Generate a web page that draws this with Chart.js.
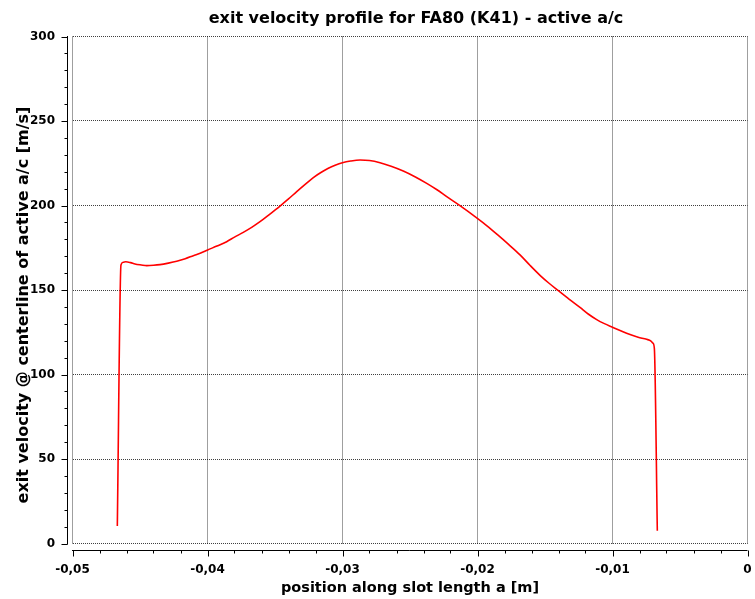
<!DOCTYPE html>
<html>
<head>
<meta charset="utf-8">
<script src="https://cdn.jsdelivr.net/npm/chart.js@4.4.1/dist/chart.umd.min.js"></script>
<style>
  html, body { margin: 0; padding: 0; background: #fff; }
  #wrap { width: 755px; height: 599px; }
</style>
</head>
<body>
<div id="wrap"><canvas id="c" width="755" height="599"></canvas></div>
<script>
// position along slot length [m]
const positions = [
  -0.04668, -0.04641, -0.04625, -0.04605, -0.04570, -0.04537, -0.04490, -0.04450,
  -0.04400, -0.04352, -0.04290, -0.04228, -0.04165, -0.04105, -0.04050, -0.03999,
  -0.03930, -0.03858, -0.03800, -0.03735, -0.03670, -0.03611, -0.03540, -0.03463,
  -0.03400, -0.03339, -0.03270, -0.03216, -0.03160, -0.03105, -0.03050, -0.03001,
  -0.02940, -0.02870, -0.02800, -0.02722, -0.02640, -0.02550, -0.02460, -0.02376,
  -0.02300, -0.02228, -0.02130, -0.02001, -0.01930, -0.01850, -0.01770, -0.01685,
  -0.01610, -0.01537, -0.01470, -0.01401, -0.01320, -0.01241, -0.01180, -0.01117,
  -0.01060, -0.01001, -0.00935, -0.00870, -0.00810, -0.00747, -0.00715, -0.00700,
  -0.00690, -0.00668
];
// exit velocity [m/s]
const velocities = [
  10.4, 164.8, 166.4, 166.7, 166.2, 165.4, 164.8, 164.4,
  164.6, 165.0, 165.9, 167.0, 168.5, 170.3, 171.9, 173.7,
  176.0, 178.6, 181.3, 184.1, 187.2, 190.4, 194.8, 199.7,
  203.9, 208.2, 212.9, 216.5, 219.5, 222.0, 224.0, 225.3,
  226.3, 226.9, 226.6, 225.3, 223.2, 220.4, 216.9, 213.1,
  209.3, 205.2, 199.9, 192.4, 188.0, 182.6, 177.0, 170.8,
  164.5, 158.7, 154.0, 149.6, 144.5, 139.7, 135.8, 132.5,
  130.1, 128.0, 125.7, 123.6, 122.0, 120.8, 119.8, 118.5,
  115.5, 7.6
];
const xTicks = [-0.05, -0.04, -0.03, -0.02, -0.01, 0];
const yTicks = [0, 50, 100, 150, 200, 250, 300];

const FONT = "'DejaVu Sans', Verdana, sans-serif";
const TITLE = 'exit velocity profile for FA80 (K41) - active a/c';
const X_TITLE = 'position along slot length a [m]';
const Y_TITLE = 'exit velocity @ centerline of active a/c [m/s]';

// titel, achsen mit abstand + kleine striche
const axisPlugin = {
  id: 'offsetAxes',
  afterDraw(chart) {
    const { ctx, chartArea: a, scales: { x, y } } = chart;
    ctx.save();
    ctx.strokeStyle = '#000';
    ctx.lineWidth = 1;
    const yLine = Math.round(a.bottom + 6) + 0.5;
    const xLine = Math.round(a.left - 6) + 0.5;

    ctx.beginPath();
    ctx.moveTo(x.getPixelForValue(-0.05) - 0.5, yLine);
    ctx.lineTo(x.getPixelForValue(0), yLine);
    for (let i = 0; i <= 25; i++) {
      const px = Math.round(x.getPixelForValue(-0.05 + i * 0.002)) + 0.5;
      ctx.moveTo(px, yLine);
      ctx.lineTo(px, yLine + (i % 5 === 0 ? 6 : 3));
    }
    ctx.moveTo(xLine, y.getPixelForValue(300) - 0.5);
    ctx.lineTo(xLine, y.getPixelForValue(0) + 1);
    for (let i = 0; i <= 30; i++) {
      const py = Math.round(y.getPixelForValue(i * 10)) + 0.5;
      ctx.moveTo(xLine, py);
      ctx.lineTo(xLine - (i % 5 === 0 ? 6 : 3), py);
    }
    ctx.stroke();

    ctx.fillStyle = '#000';
    ctx.textAlign = 'center';
    ctx.textBaseline = 'alphabetic';
    ctx.font = 'bold 16px ' + FONT;
    ctx.fillText(TITLE, (a.left + a.right) / 2 + 6, 23);
    ctx.font = 'bold 14.5px ' + FONT;
    ctx.fillText(X_TITLE, (a.left + a.right) / 2, 591.5);
    ctx.translate(28, 305);
    ctx.rotate(-Math.PI / 2);
    ctx.font = 'bold 16px ' + FONT;
    ctx.fillText(Y_TITLE, 0, 0);
    ctx.restore();
  }
};

new Chart(document.getElementById('c'), {
  type: 'line',
  data: {
    datasets: [{
      data: positions.map((p, i) => ({ x: p, y: velocities[i] })),
      borderColor: '#ff0000',
      borderWidth: 1.6,
      pointRadius: 0,
      cubicInterpolationMode: 'monotone',
      fill: false
    }]
  },
  options: {
    responsive: false,
    animation: false,
    layout: { padding: { left: 0, right: 7.5, top: 36.5, bottom: 0 } },
    plugins: {
      legend: { display: false },
      tooltip: { enabled: false },
      title: { display: false }
    },
    scales: {
      x: {
        type: 'linear',
        min: -0.05,
        max: 0,
        afterFit(s) { s.height = 55.5; s.paddingLeft = 0; s.paddingRight = 0; },
        afterBuildTicks(s) { s.ticks = xTicks.map(v => ({ value: v })); },
        grid: { color: 'rgba(0,0,0,0.75)', drawTicks: false },
        border: { display: false, dash: [1, 1] },
        ticks: {
          color: '#000',
          padding: 19,
          maxRotation: 0,
          font: { family: FONT, size: 12, weight: 'bold' },
          callback: v => Math.abs(v) < 1e-9 ? '0' : v.toFixed(2).replace('.', ',')
        }
      },
      y: {
        type: 'linear',
        min: 0,
        max: 300,
        afterFit(s) { s.width = 72.5; s.paddingTop = 0; s.paddingBottom = 0; },
        afterBuildTicks(s) { s.ticks = yTicks.map(v => ({ value: v })); },
        grid: { color: 'rgba(0,0,0,0.75)', drawTicks: false },
        border: { display: false, dash: [1, 1] },
        ticks: {
          color: '#000',
          padding: 17.5,
          font: { family: FONT, size: 12, weight: 'bold' }
        }
      }
    }
  },
  plugins: [axisPlugin]
});
</script>
</body>
</html>
